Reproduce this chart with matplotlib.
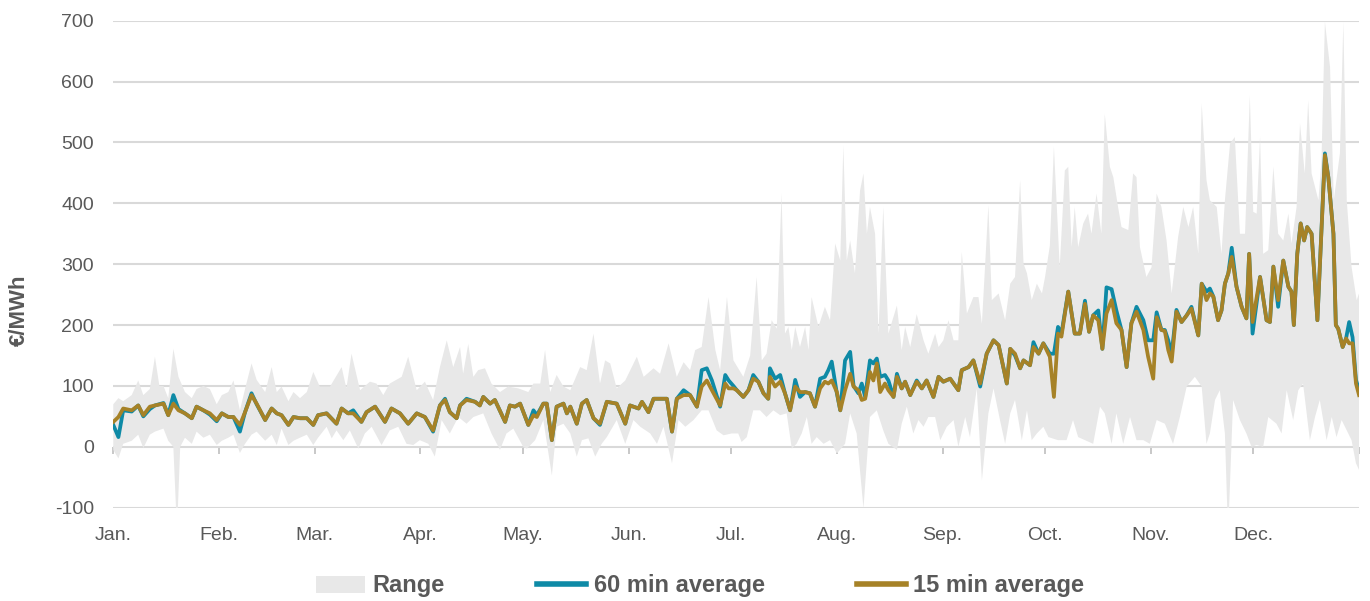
import matplotlib
matplotlib.use("Agg")
import matplotlib.pyplot as plt
import numpy as np
from matplotlib.patches import Patch
from matplotlib.lines import Line2D

plt.rcParams['font.family'] = ['Liberation Sans', 'DejaVu Sans']

# ---------------- data ----------------
month_labels = ["Jan.", "Feb.", "Mar.", "Apr.", "May.", "Jun.", "Jul.", "Aug.", "Sep.", "Oct.", "Nov.", "Dec."]
month_start_days = [0, 31, 59, 90, 120, 151, 181, 212, 243, 273, 304, 334, 365]

line_days = [0.0, 1.5, 2.9, 5.4, 7.3, 8.8, 10.7, 12.2, 14.7, 16.1, 17.6, 19.1, 21.0, 23.0, 24.4, 26.4, 28.3, 30.3, 31.8,
             33.7, 35.2, 37.1, 38.6, 40.5, 42.0, 44.5, 46.4, 47.9, 49.3, 51.3, 52.8, 54.7, 56.7, 58.6,
             60.0, 62.5, 65.4, 66.9, 68.8, 70.3, 72.7, 74.2, 76.7, 79.6, 81.5, 84.0, 86.4, 88.9, 91.3, 93.7, 95.7,
             97.2, 98.6, 100.6, 101.6, 103.5, 106.0, 107.4, 108.4, 110.4, 111.8, 114.8, 116.2, 117.7, 119.2,
             121.6, 123.1, 124.1, 126.0, 127.0, 128.5, 129.9, 131.9, 132.9, 133.9, 135.8, 137.3, 138.7, 140.7, 142.6,
             144.6, 147.5, 150.0, 151.4, 153.9, 154.9, 156.8, 158.3, 162.2, 163.7, 165.1, 167.1, 169.0, 171.0, 172.4,
             173.9, 175.4, 177.8, 179.3, 180.3, 181.7,
             182.7, 184.6, 186.1, 187.5, 189.0, 190.5, 191.9, 192.4, 193.9, 195.4, 196.8, 198.3, 199.8, 201.2, 202.7,
             204.1, 205.6, 207.1, 208.5, 209.5, 210.5, 212.0, 213.0, 214.4, 215.9, 216.9, 218.3, 219.3, 220.3, 221.7,
             222.7, 223.7, 224.7, 226.1, 227.1,
             228.6, 229.6, 231.0, 232.0, 233.5, 235.4, 236.9, 238.3, 240.3, 241.8, 243.2, 245.2, 247.6, 248.6, 250.6,
             252.0, 254.0, 255.9, 257.9, 259.4, 261.8, 262.8, 264.2, 265.7, 266.7, 268.6, 269.6, 271.1, 272.5,
             274.4, 275.6, 276.8, 277.8, 279.8, 281.7, 283.2, 284.7, 285.9, 287.1, 288.6, 289.8, 291.0, 292.5, 293.9,
             295.4, 296.9, 298.3, 299.8, 301.8, 303.2, 304.7, 305.7, 307.1, 308.1, 309.1, 310.1, 311.5, 313.0, 314.5,
             315.9, 317.9, 318.9, 320.3,
             321.3, 322.3, 323.7, 324.7, 325.7, 326.7, 327.7, 329.1, 330.6, 332.0, 332.8, 333.8, 336.0, 337.9, 338.9,
             339.9, 341.3, 342.8, 344.3, 345.2, 345.9, 346.9, 347.9, 348.9, 349.8, 351.1, 352.8, 355.0, 356.0, 357.5,
             358.2, 358.9, 360.2, 361.2, 362.1, 363.1, 364.1, 365.0]

avg_60min = [36, 16, 60, 58, 68, 50, 62, 68, 72, 52, 85, 62, 55, 47, 66, 60, 53, 42, 55,
             49, 49, 25, 57, 88, 70, 44, 63, 55, 52, 36, 49, 47, 47, 36,
             52, 55, 38, 63, 55, 60, 41, 57, 66, 41, 63, 55, 38, 55, 49, 25, 68,
             79, 57, 47, 68, 79, 74, 68, 82, 71, 77, 41, 68, 66, 71,
             36, 60, 52, 71, 71, 11, 66, 71, 55, 66, 38, 71, 77, 47, 36,
             74, 71, 38, 68, 63, 74, 57, 79, 79, 25, 79, 93, 85, 66, 126,
             129, 109, 66, 118, 109, 100,
             93, 82, 93, 118, 107, 88, 79, 129, 112, 118, 88, 60, 110, 82, 90,
             88, 66, 112, 115, 126, 140, 88, 60, 142, 156, 100, 88, 104, 82, 142,
             137, 145, 115, 118, 109,
             82, 120, 96, 107, 85, 109, 96, 109, 82, 115, 107, 112, 93, 126, 131,
             142, 99, 153, 175, 167, 104, 161, 150, 129, 142, 134, 172, 153, 170,
             153, 153, 197, 186, 255, 186, 186, 240, 189, 216, 224, 161, 262, 259, 224,
             192, 131, 203, 230, 208, 175, 175, 221, 192, 192, 175, 153, 225, 205, 216,
             230, 183, 268, 255,
             260, 247, 208, 224, 268, 285, 327, 263, 230, 211, 317, 186, 279, 208, 205,
             296, 230, 306, 263, 255, 200, 317, 367, 339, 361, 350, 208, 482, 443, 350,
             200, 194, 164, 178, 205, 180, 110, 93]

avg_15min = [41, 49, 63, 60, 68, 52, 66, 68, 71, 52, 71, 60, 55, 47, 66, 60, 55, 44, 55,
             49, 49, 36, 57, 85, 71, 44, 63, 55, 52, 36, 49, 47, 47, 36,
             52, 55, 38, 63, 55, 55, 41, 57, 66, 41, 63, 55, 38, 55, 49, 27, 68,
             77, 57, 47, 68, 77, 74, 68, 82, 71, 77, 41, 68, 66, 71,
             36, 52, 49, 71, 71, 11, 66, 71, 55, 66, 38, 71, 77, 47, 38,
             74, 71, 38, 68, 63, 74, 57, 79, 79, 25, 79, 85, 85, 66, 99,
             109, 93, 68, 104, 96, 96,
             93, 82, 93, 112, 107, 88, 79, 115, 99, 107, 88, 60, 99, 90, 90,
             88, 66, 96, 107, 104, 109, 90, 60, 93, 120, 99, 93, 77, 79, 123,
             109, 137, 90, 104, 93,
             82, 115, 96, 107, 85, 107, 96, 109, 82, 115, 107, 112, 93, 126, 131,
             142, 104, 153, 175, 167, 104, 161, 153, 129, 142, 134, 164, 153, 170,
             148, 82, 186, 181, 255, 186, 186, 235, 189, 216, 208, 161, 219, 241, 203,
             192, 131, 203, 222, 192, 148, 112, 213, 192, 190, 159, 140, 222, 205, 216,
             227, 183, 268, 241,
             252, 247, 208, 224, 268, 285, 312, 263, 230, 211, 317, 205, 279, 208, 205,
             296, 241, 306, 263, 255, 200, 317, 367, 339, 361, 350, 208, 479, 443, 350,
             200, 194, 164, 178, 170, 170, 104, 85]

hi_days = [0.0, 1.5, 2.9, 5.4, 7.3, 8.8, 10.7, 12.2, 13.5, 14.7, 16.1, 17.6, 19.1, 21.0, 23.0, 24.4, 26.4, 28.3,
           30.3, 31.8, 33.7, 35.2, 37.1, 38.6, 40.5, 42.0, 44.5, 46.4, 47.9, 49.3, 51.3, 52.8, 54.7, 56.7, 58.6,
           60.5, 63.5, 66.9, 68.3, 69.8, 72.3, 75.2, 77.1, 79.1, 81.0, 84.5, 86.4, 88.9, 91.3, 93.7, 95.7, 97.7,
           99.6, 101.6, 102.5, 104.0, 105.5, 106.9, 108.9, 110.8, 113.3, 115.7, 118.7, 121.6,
           123.1, 125.1, 126.5, 128.0, 129.9, 131.9, 133.9, 136.8, 138.7, 140.7, 142.6, 144.1, 145.6, 147.5, 150.0,
           153.4, 155.4, 158.3, 160.2, 162.7, 165.1, 167.1, 169.0, 170.5, 172.4, 174.4, 176.4, 177.8, 179.8,
           181.7, 184.6, 186.6, 188.5, 190.0, 191.4, 192.9, 194.4, 195.8, 196.8, 197.8, 198.8, 199.8, 201.2, 202.7,
           203.7, 204.6, 206.6, 208.5, 210.0, 211.5, 213.0, 213.9, 214.9, 215.9, 217.3, 218.8, 219.8, 220.8, 221.7,
           223.2, 224.2, 225.6, 227.1,
           229.6, 231.0, 232.0, 233.5, 235.4, 237.4, 238.8, 240.8, 241.8, 243.2, 244.7, 246.2, 247.6, 248.6, 250.1,
           252.0, 253.5, 254.5, 256.4, 257.4, 259.4, 261.3, 262.8, 264.2, 265.7, 266.7, 267.7, 269.1, 270.6, 272.1,
           273.0,
           274.4, 275.6, 277.3, 278.8, 279.8, 280.8, 281.7, 282.7, 284.2, 285.6, 286.6, 288.1, 289.5, 290.5, 292.0,
           293.0, 294.4, 295.4, 297.4, 298.8, 299.8, 300.8, 302.7, 304.2, 305.7, 307.1, 308.6, 310.1, 312.0, 313.5,
           315.0, 316.4, 317.9, 318.9, 320.3,
           321.3, 323.3, 324.7, 325.7, 327.2, 328.6, 330.1, 331.6, 333.0, 334.0, 335.0, 336.0, 336.9, 338.4, 339.9,
           341.3, 342.8, 344.3, 345.2, 346.7, 347.7, 349.1, 350.1, 351.1, 353.1, 354.0, 355.0, 356.5, 357.6, 359.4,
           360.4, 361.4, 362.8, 364.3, 365.0]

range_hi = [70, 80, 75, 85, 109, 85, 95, 148, 100, 100, 80, 161, 115, 90, 80, 95, 100, 95,
            70, 85, 90, 109, 60, 95, 137, 110, 90, 131, 90, 99, 75, 90, 80, 90, 123,
            99, 99, 131, 96, 153, 93, 107, 104, 85, 104, 115, 148, 93, 107, 77, 131, 175,
            131, 164, 120, 169, 115, 126, 129, 104, 90, 99, 96, 90,
            104, 104, 159, 90, 118, 99, 93, 131, 126, 186, 104, 142, 137, 96, 109,
            148, 115, 129, 120, 170, 115, 139, 126, 159, 164, 246, 159, 126, 246,
            142, 115, 150, 279, 142, 153, 208, 194, 416, 186, 197, 159, 197, 164, 197,
            159, 246, 197, 230, 208, 334, 306, 495, 306, 339, 285, 421, 449, 350, 394,
            350, 186, 394, 186,
            232, 159, 197, 164, 218, 175, 153, 186, 164, 175, 208, 175, 175, 320, 219,
            246, 246, 202, 397, 241, 252, 208, 268, 279, 438, 301, 285, 241, 268, 252,
            279,
            330, 493, 295, 454, 460, 328, 394, 328, 367, 383, 350, 416, 350, 547, 460,
            443, 394, 361, 356, 449, 443, 328, 279, 295, 416, 394, 339, 252, 345, 394,
            361, 394, 317, 564, 438,
            405, 394, 317, 405, 498, 509, 350, 350, 577, 386, 383, 509, 317, 323, 460,
            350, 339, 383, 334, 394, 531, 449, 569, 449, 405, 471, 698, 624, 405, 482,
            698, 405, 296, 241, 252]

lo_days = [0.0, 1.5, 2.9, 5.4, 7.3, 8.8, 10.7, 12.2, 14.7, 16.1, 17.6, 18.4, 18.9, 19.6, 21.0, 23.0, 24.4, 26.4,
           28.3, 30.3, 31.8, 33.7, 35.2, 37.1, 38.6, 40.5, 42.0, 44.5, 46.4, 47.9, 49.3, 51.3, 52.8, 54.7, 56.7,
           58.6, 60.0,
           62.5, 64.0, 65.4, 67.4, 69.3, 71.8, 73.7, 75.7, 78.6, 81.0, 83.5, 85.9, 87.9, 89.8, 92.3, 94.2, 96.2,
           98.6, 101.1, 103.5, 105.5, 108.4, 110.8, 113.3, 115.2, 117.2, 120.1,
           121.2, 123.6, 126.0, 128.5, 129.9, 131.9, 133.9, 135.8, 137.3, 139.2, 141.2, 143.1, 144.6, 147.5, 150.0,
           152.4, 154.4, 157.3, 159.3, 161.2, 163.7, 165.6, 167.6, 170.0, 172.4, 174.4, 176.8, 178.8,
           181.2, 183.1, 184.1, 185.6, 187.5, 189.5, 191.4, 193.4, 195.4, 197.3, 198.8, 200.2, 201.7, 203.2, 204.6,
           206.1, 208.1, 210.0, 212.0, 214.4, 215.9, 217.8, 219.8, 221.7, 223.7, 225.6, 227.1,
           229.6, 231.0, 232.5, 234.4, 235.9, 237.4, 238.8, 240.8, 242.3, 244.2, 246.2, 247.6, 249.6, 251.0, 253.0,
           254.5, 256.4, 257.9, 259.8, 261.3, 262.8, 264.2, 266.2, 267.7, 269.1, 270.6, 272.5, 274.0,
           276.8, 279.3, 281.2, 282.7, 284.7, 287.1, 289.1, 290.5, 292.5, 293.9, 295.9, 297.9, 299.8, 301.8, 303.7,
           305.7, 308.1, 310.5, 312.5, 314.5, 316.9, 318.9, 320.3,
           321.3, 322.8, 324.2, 325.7, 326.4, 326.9, 328.1, 330.1, 332.0, 333.5, 335.0, 336.9, 338.4, 340.8, 342.3,
           343.8, 345.7, 347.2, 348.6, 350.6, 352.1, 353.5, 355.5, 357.0, 358.4, 359.9, 361.4, 362.8, 364.1, 365.0]

range_lo = [-5, -19, 5, 10, 20, -2, 20, 25, 30, 10, 0, -104, -104, 0, 15, 5, 25, 15,
            20, 3, 10, 15, 20, -10, 5, 20, 25, 10, 20, 3, 30, 3, 10, 15, 20,
            3, 15,
            33, 14, 27, 11, 27, -3, 22, 33, 3, 27, 33, 5, 3, 11, 5, -16, 44,
            22, 49, 38, 49, 55, 22, -5, 22, 30, 0,
            -3, 11, 44, -47, 33, 38, 22, -16, 11, 14, -16, 5, 16, 44, 5,
            44, 33, 22, 5, 33, -27, 44, 33, 44, 60, 60, 27, 19,
            22, 22, 8, 16, 60, 60, 49, 60, 52, 55, -3, 5, 22, 49, 5,
            16, 5, 11, -11, 5, 55, 22, -101, 49, 60, 27, 5,
            -5, 38, 66, 22, 44, 33, 49, 49, 11, 33, 44, 0, 49, 16, 96,
            -55, 55, 96, 44, 5, 55, 77, 11, 60, 11, 22, 33, 16,
            11, 11, 44, 16, 11, 5, 66, 55, 5, 55, 5, 49, 11, 11, 5,
            44, 38, 5, 49, 99, 115, 99, 5,
            22, 77, 93, 22, -104, -104, 77, 44, 22, 0, 3, 0, 49, 38, 22,
            93, 44, 93, 104, 11, 49, 77, 11, 49, 16, 44, 27, 11, -27, -38]

y_ticks = [-100, 0, 100, 200, 300, 400, 500, 600, 700]

# ---------------- styles ----------------
c_range = "#E8E8E8"
c_60 = "#0E8AA6"
c_15 = "#A68227"
c_text = "#595959"
c_grid = "#D9D9D9"

fig = plt.figure(figsize=(13.70, 6.01), dpi=100)
ax = fig.add_axes([0.0827, 0.1552, 0.9093, 0.8104])

# range polygon (upper edge forward, lower edge backward)
poly_x = np.concatenate([np.array(hi_days), np.array(lo_days)[::-1]])
poly_y = np.concatenate([np.array(range_hi), np.array(range_lo)[::-1]])
ax.fill(poly_x, poly_y, color=c_range, lw=0, zorder=1)

ax.plot(line_days, avg_60min, color=c_60, lw=2.7, zorder=3, solid_joinstyle="round")
ax.plot(line_days, avg_15min, color=c_15, lw=2.7, zorder=4, solid_joinstyle="round")

ax.set_xlim(0, 365)
ax.set_ylim(-100, 700)
ax.set_yticks(y_ticks)
ax.set_yticklabels([str(v) for v in y_ticks])
ax.yaxis.grid(True, color=c_grid, lw=1.5, zorder=0)
ax.set_axisbelow(True)
for s in ax.spines.values():
    s.set_visible(False)
ax.tick_params(axis="y", length=0, pad=14, labelsize=14, labelcolor=c_text)

ax.set_xticks(month_start_days[:-1])
ax.set_xticklabels(month_labels)
ax.tick_params(axis="x", length=0, pad=14, labelsize=14, labelcolor=c_text)

# small month tick marks on the zero line
sec = ax.secondary_xaxis(100 / 800)
sec.set_xticks(month_start_days)
sec.set_xticklabels([])
sec.tick_params(axis="x", length=5, width=1.2, color="#BFBFBF", direction="out")
sec.spines["bottom"].set_visible(False)

fig.text(0.014, 0.484, "€/MWh", rotation=90, ha="center", va="center",
         fontsize=16, fontweight="bold", color=c_text)

handles = [Patch(facecolor=c_range, edgecolor="none"),
           Line2D([], [], color=c_60, lw=4),
           Line2D([], [], color=c_15, lw=4)]
labels = ["Range", "60 min average", "15 min average"]
leg = fig.legend(handles, labels, loc="center", bbox_to_anchor=(0.511, 0.025), ncol=3,
                 frameon=False, handlelength=2.1, handleheight=0.75, handletextpad=0.3,
                 columnspacing=3.9, prop={"weight": "bold", "size": 17})
for t in leg.get_texts():
    t.set_color(c_text)

fig.savefig("out.png", dpi=100)
